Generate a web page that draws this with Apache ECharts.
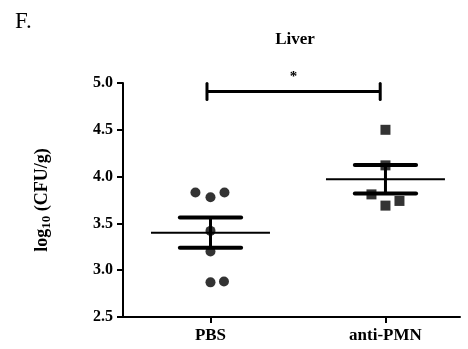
<!DOCTYPE html>
<html>
<head>
<meta charset="utf-8">
<script src="https://cdn.jsdelivr.net/npm/echarts@6/dist/echarts.min.js"></script>
<style>html,body{margin:0;padding:0;background:#fff}#c{width:468px;height:349px}</style>
</head>
<body>
<div id="c"></div>
<script>
var categories = ['PBS', 'anti-PMN'];
var pbsValues = [3.83, 3.78, 3.83, 3.42, 3.20, 2.87, 2.88];
var pbsJitter = [-0.086, 0, 0.08, 0, 0, 0, 0.077];
var pmnValues = [4.50, 4.12, 3.81, 3.69, 3.74];
var pmnJitter = [0, 0, -0.08, 0, 0.08];
var yTicks = [2.5, 3.0, 3.5, 4.0, 4.5, 5.0];
var sigBracket = [0.98, 1.97, 4.91];
var sigLabel = '*';

function mean(a){var s=0;for(var i=0;i<a.length;i++)s+=a[i];return s/a.length;}
function sem(a){var m=mean(a),s=0;for(var i=0;i<a.length;i++)s+=(a[i]-m)*(a[i]-m);return Math.sqrt(s/(a.length-1))/Math.sqrt(a.length);}

var groups = [pbsValues, pmnValues];
var summary = groups.map(function(g,i){var m=mean(g),e=sem(g);return [i+1,m,m-e,m+e];});

var FONT = '"Liberation Serif", "Times New Roman", serif';
var chart = echarts.init(document.getElementById('c'));
chart.setOption({
  animation:false,
  backgroundColor:'#fff',
  title:[
    {text:'F.',left:10,top:5,textStyle:{fontFamily:FONT,fontWeight:'normal',fontSize:23,color:'#000'}},
    {text:'Liver',left:290,textAlign:'center',top:26,textStyle:{fontFamily:FONT,fontWeight:'bold',fontSize:17,color:'#000'}}
  ],
  grid:{left:123,right:8,top:83,bottom:32},
  xAxis:{type:'value',min:0.5,max:2.426,
    axisLine:{show:true,onZero:false,lineStyle:{color:'#000',width:2}},
    splitLine:{show:false},
    axisTick:{show:true,customValues:[1,2],length:6,lineStyle:{color:'#000',width:2}},
    axisLabel:{customValues:[1,2],formatter:function(v){return categories[Math.round(v)-1]||'';},
      fontFamily:FONT,fontWeight:'bold',fontSize:17,color:'#000',margin:10}
  },
  yAxis:{type:'value',min:2.5,max:5.0,interval:0.5,
    name:'{a|log}{s|10}{a| (CFU/g)}',nameLocation:'middle',nameGap:70,nameRotate:90,
    nameTextStyle:{rich:{a:{fontFamily:FONT,fontWeight:'bold',fontSize:18,color:'#000'},
      s:{fontFamily:FONT,fontWeight:'bold',fontSize:13,color:'#000',verticalAlign:'bottom',padding:[8,0,0,0]}}},
    axisLine:{show:true,lineStyle:{color:'#000',width:2}},
    splitLine:{show:false},
    axisTick:{show:true,length:6,lineStyle:{color:'#000',width:2}},
    axisLabel:{fontFamily:FONT,fontWeight:'bold',fontSize:16,color:'#000',margin:10,
      formatter:function(v){return v.toFixed(1);}}
  },
  series:[
    {type:'custom',clip:false,z:3,data:summary,
      renderItem:function(params,api){
        var x=api.value(0),m=api.value(1),lo=api.value(2),hi=api.value(3);
        var pm1=api.coord([x-0.34,m]),pm2=api.coord([x+0.34,m]);
        var l1=api.coord([x-0.175,lo]),l2=api.coord([x+0.175,lo]);
        var h1=api.coord([x-0.175,hi]),h2=api.coord([x+0.175,hi]);
        var c=api.coord([x,m]);
        return {type:'group',children:[
          {type:'line',shape:{x1:pm1[0],y1:pm1[1],x2:pm2[0],y2:pm2[1]},style:{stroke:'#000',lineWidth:2}},
          {type:'line',shape:{x1:l1[0],y1:l1[1],x2:l2[0],y2:l2[1]},style:{stroke:'#000',lineWidth:4,lineCap:'round'}},
          {type:'line',shape:{x1:h1[0],y1:h1[1],x2:h2[0],y2:h2[1]},style:{stroke:'#000',lineWidth:4,lineCap:'round'}},
          {type:'line',shape:{x1:c[0],y1:h1[1],x2:c[0],y2:l1[1]},style:{stroke:'#000',lineWidth:3}}
        ]};
      }},
    {type:'scatter',symbol:'circle',symbolSize:10,itemStyle:{color:'#000'},z:4,
      data:pbsValues.map(function(v,i){return [1+pbsJitter[i],v];})},
    {type:'scatter',symbol:'rect',symbolSize:10,itemStyle:{color:'#000'},z:4,
      data:pmnValues.map(function(v,i){return [2+pmnJitter[i],v];})},
    {type:'custom',clip:false,z:3,data:[sigBracket],
      renderItem:function(params,api){
        var a=api.coord([api.value(0),api.value(2)]),b=api.coord([api.value(1),api.value(2)]);
        var mid=(a[0]+b[0])/2;
        return {type:'group',children:[
          {type:'line',shape:{x1:a[0],y1:a[1],x2:b[0],y2:b[1]},style:{stroke:'#000',lineWidth:3}},
          {type:'line',shape:{x1:a[0],y1:a[1]-8,x2:a[0],y2:a[1]+8},style:{stroke:'#000',lineWidth:3,lineCap:'round'}},
          {type:'line',shape:{x1:b[0],y1:b[1]-8,x2:b[0],y2:b[1]+8},style:{stroke:'#000',lineWidth:3,lineCap:'round'}},
          {type:'text',x:mid,y:a[1]-7,style:{text:sigLabel,fill:'#000',font:'bold 15px '+FONT,align:'center',verticalAlign:'bottom'}}
        ]};
      }}
  ]
});
</script>
</body>
</html>
